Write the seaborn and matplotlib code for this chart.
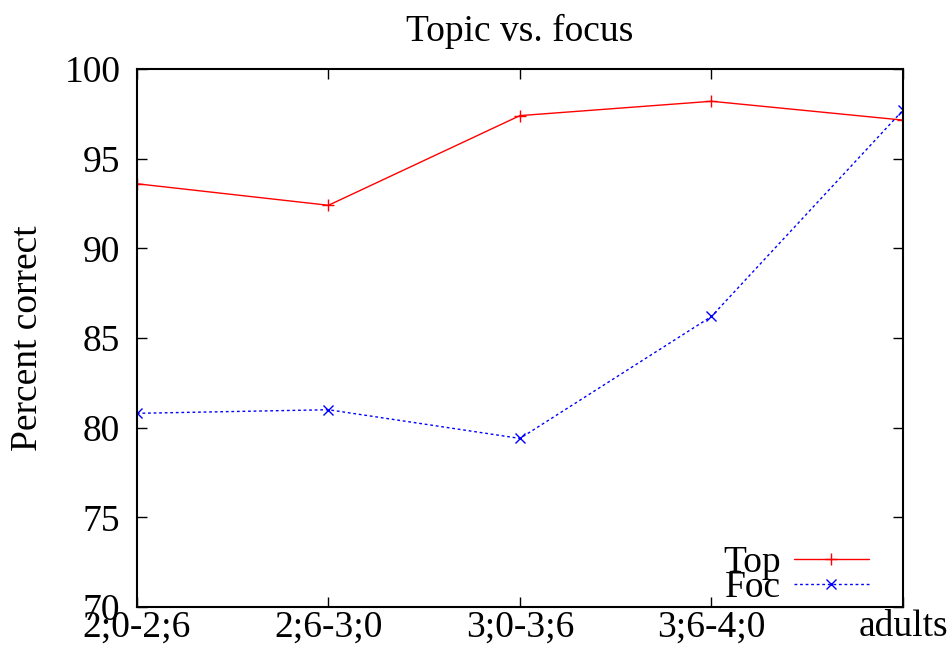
import numpy as np
import pandas as pd
import seaborn as sns
import matplotlib
matplotlib.use("Agg")
from matplotlib import pyplot as plt

ages = ['2;0-2;6', '2;6-3;0', '3;0-3;6', '3;6-4;0', 'adults']
top = [93.6, 92.4, 97.4, 98.2, 97.15]
foc = [80.8, 81.0, 79.4, 86.2, 97.7]

sns.set_style('ticks')
plt.rcParams['font.family'] = ['Liberation Serif', 'DejaVu Serif']
plt.rcParams['text.color'] = 'black'
plt.rcParams['axes.labelcolor'] = 'black'
plt.rcParams['xtick.color'] = 'black'
plt.rcParams['ytick.color'] = 'black'
plt.rcParams['axes.edgecolor'] = 'black'

df = pd.DataFrame({'pos': np.arange(len(ages)), 'Top': top, 'Foc': foc})

fig = plt.figure(figsize=(9.51, 6.49), dpi=100)
ax = fig.add_axes([0.144, 0.0647, 0.8055, 0.829])

sns.lineplot(data=df, x='pos', y='Top', ax=ax, color='#ff0000', linewidth=1.0,
             marker='+', markersize=8, markeredgewidth=1.0,
             markeredgecolor='#ff0000', label='Top')
sns.lineplot(data=df, x='pos', y='Foc', ax=ax, color='#0000ff', linewidth=1.0,
             linestyle=(0, (2, 2)), marker='x', markersize=7, markeredgewidth=1.0,
             markeredgecolor='#0000ff', label='Foc')

ax.set_xlim(0, len(ages) - 1)
ax.set_ylim(70, 100)
ax.set_xticks(range(len(ages)))
ax.set_xticklabels(ages)
ax.set_yticks(range(70, 101, 5))
ax.tick_params(axis='both', direction='in', length=7, width=1.0, labelsize=27,
               top=True, right=True)
ax.tick_params(axis='x', pad=2)
ax.tick_params(axis='y', pad=12)
for s in ax.spines.values():
    s.set_linewidth(1.5)
    s.set_visible(True)
ax.set_xlabel('')
ax.set_ylabel('Percent correct', fontsize=27, labelpad=14)
ax.set_title('Topic vs. focus', fontsize=27, pad=20)

leg = ax.legend(loc='lower right', frameon=False, markerfirst=False, fontsize=27,
                handlelength=2.0, labelspacing=-0.25, borderaxespad=0.2,
                handletextpad=0.35, borderpad=0.2, bbox_to_anchor=(0.975, -0.025))

fig.savefig('out.png', dpi=100)
